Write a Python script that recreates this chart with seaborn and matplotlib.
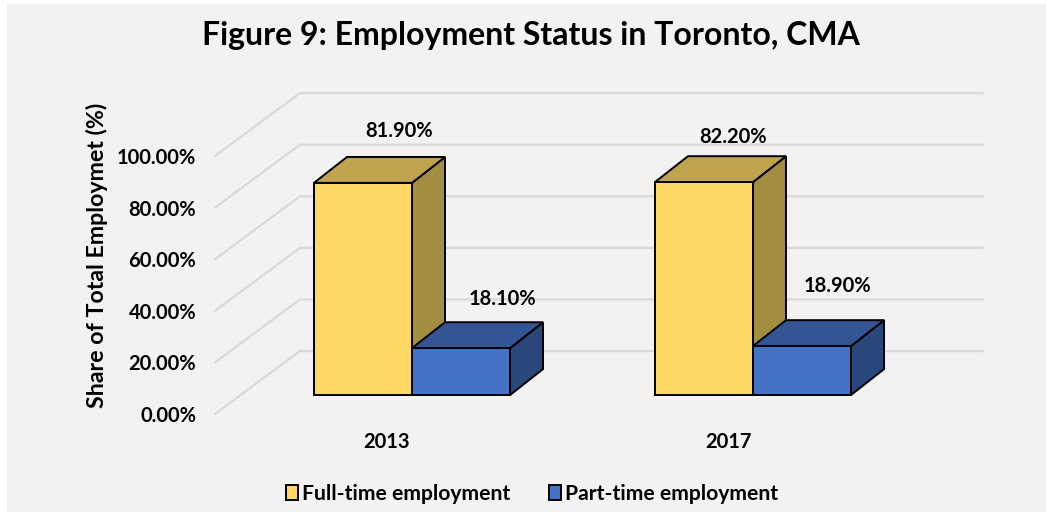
import matplotlib
matplotlib.use("Agg")
import matplotlib.pyplot as plt
from matplotlib.patches import Polygon, Rectangle
from matplotlib.transforms import ScaledTranslation
import pandas as pd
import seaborn as sns

# Data
years = ["2013", "2017"]
full_time = [81.9, 82.2]
part_time = [18.1, 18.9]
status_names = ["Full-time employment", "Part-time employment"]
y_ticks = [0, 20, 40, 60, 80, 100]
y_tick_labels = ["0.00%", "20.00%", "40.00%", "60.00%", "80.00%", "100.00%"]

W, H = 1046, 512
BG = "#f2f2f2"
INK = "#000000"
FRONT = ["#ffd966", "#4472c4"]
TOP = ["#bfa34d", "#335593"]
SIDE = ["#a38d41", "#2a477b"]
# label offset from the bar's top centre, in pixels
label_offsets = [(36, 52), (29, 45), (41, 49), (35, 60)]

sns.set_theme(style="white")
plt.rcParams["font.family"] = ["Lato", "DejaVu Sans"]
plt.rcParams["font.weight"] = "bold"


def px_axes(left, top, right, bottom):
    return fig.add_axes([left / W, 1 - bottom / H, (right - left) / W, (bottom - top) / H])


fig = plt.figure(figsize=(W / 100, H / 100), dpi=100, facecolor="white")
# Grey panel leaves a thin white edge at the left and top
fig.add_artist(Rectangle((7 / W, 0), (W - 7) / W, 1 - 4 / H, transform=fig.transFigure,
                         facecolor=BG, edgecolor="none", zorder=-1))

# Wall and floor grid sit on their own axes, 0 to 100 runs along the front edge
wall = px_axes(215, 156, 983, 414)
wall.set_xlim(0, 1)
wall.set_ylim(0, 100)
wall.patch.set_visible(False)
sns.despine(ax=wall, left=True, bottom=True)
depth_x = 85 / 768
depth_y = 24.4
for v in y_ticks:
    wall.plot([0, depth_x, 1], [v, v + depth_y, v + depth_y], color="#d9d9d9", lw=1.6,
              clip_on=False, solid_joinstyle="miter")
wall.set_xticks([])
wall.set_yticks(y_ticks)
wall.set_yticklabels(y_tick_labels, fontsize=14.5, fontweight="bold", color=INK)
wall.tick_params(axis="y", length=0, pad=13.5)
wall.set_ylabel("Share of Total Employmet (%)", fontsize=16.7, fontweight="bold", color=INK)
wall.yaxis.set_label_coords((108 - 215) / 768, 0.615)

# Main axes: bars through seaborn, scaled to 2.59 px per percent and 341 px per category
ax = px_axes(200, 80, 1000, 430)
ax.patch.set_visible(False)
df = pd.DataFrame({
    "year": years * 2,
    "share": full_time + part_time,
    "status": [status_names[0]] * 2 + [status_names[1]] * 2,
})
sns.barplot(data=df, x="year", y="share", hue="status", ax=ax, palette=FRONT, width=0.575,
            gap=0, saturation=1, edgecolor="black", linewidth=1.4, err_kws={"linewidth": 0})
ax.set_xlim((200 - 412) / 341, (1000 - 412) / 341)
ax.set_ylim((395 - 430) / 2.59, (395 - 80) / 2.59)
ax.set_yticks([])
ax.set_xlabel("")
ax.set_ylabel("")
sns.despine(ax=ax, left=True, bottom=True)

# Extruded top and side of each bar, built from the bar seaborn drew
dx = 33 / 341
dy = 10
bars = [b for c in ax.containers for b in c]
for i, bar in enumerate(bars):
    s = i // 2
    x0, x1 = bar.get_x(), bar.get_x() + bar.get_width()
    h = bar.get_height()
    bar.set_zorder(4)
    top = [(x0, h), (x0 + dx, h + dy), (x1 + dx, h + dy), (x1, h)]
    side = [(x1, 0), (x1, h), (x1 + dx, h + dy), (x1 + dx, dy)]
    for pts, col in ((side, SIDE[s]), (top, TOP[s])):
        ax.add_patch(Polygon(pts, closed=True, facecolor=col, edgecolor="black", lw=1.4,
                             joinstyle="miter", zorder=2 + s))
    off = label_offsets[i]
    ax.annotate(f"{h:.2f}%", ((x0 + x1) / 2, h), xytext=(off[0] * 0.72, off[1] * 0.72),
                textcoords="offset points", ha="center", va="center", fontsize=14.5,
                fontweight="bold", color=INK, zorder=6, annotation_clip=False)

# Category labels sit left of the group centre, as in the reference
ax.set_xticks([0, 1])
ax.set_xticklabels(years, fontsize=14.5, fontweight="bold", color=INK)
ax.tick_params(axis="x", length=0, pad=1.5)
shift = ScaledTranslation(-25 / 100, 0, fig.dpi_scale_trans)
for lab in ax.get_xticklabels():
    lab.set_transform(lab.get_transform() + shift)

sns.move_legend(ax, "center", bbox_to_anchor=(532 / W, 1 - 494 / H),
                bbox_transform=fig.transFigure, ncol=2, title=None, frameon=False,
                fontsize=15.2, handlelength=0.55, handleheight=0.7, columnspacing=1.85,
                handletextpad=0.2)
for t in ax.get_legend().get_texts():
    t.set_color(INK)
    t.set_fontweight("bold")

fig.text(531 / W, 1 - 36 / H, "Figure 9: Employment Status in Toronto, CMA", ha="center",
         va="center", fontsize=23, fontweight="bold", color=INK)

fig.savefig("out.png", dpi=100)
